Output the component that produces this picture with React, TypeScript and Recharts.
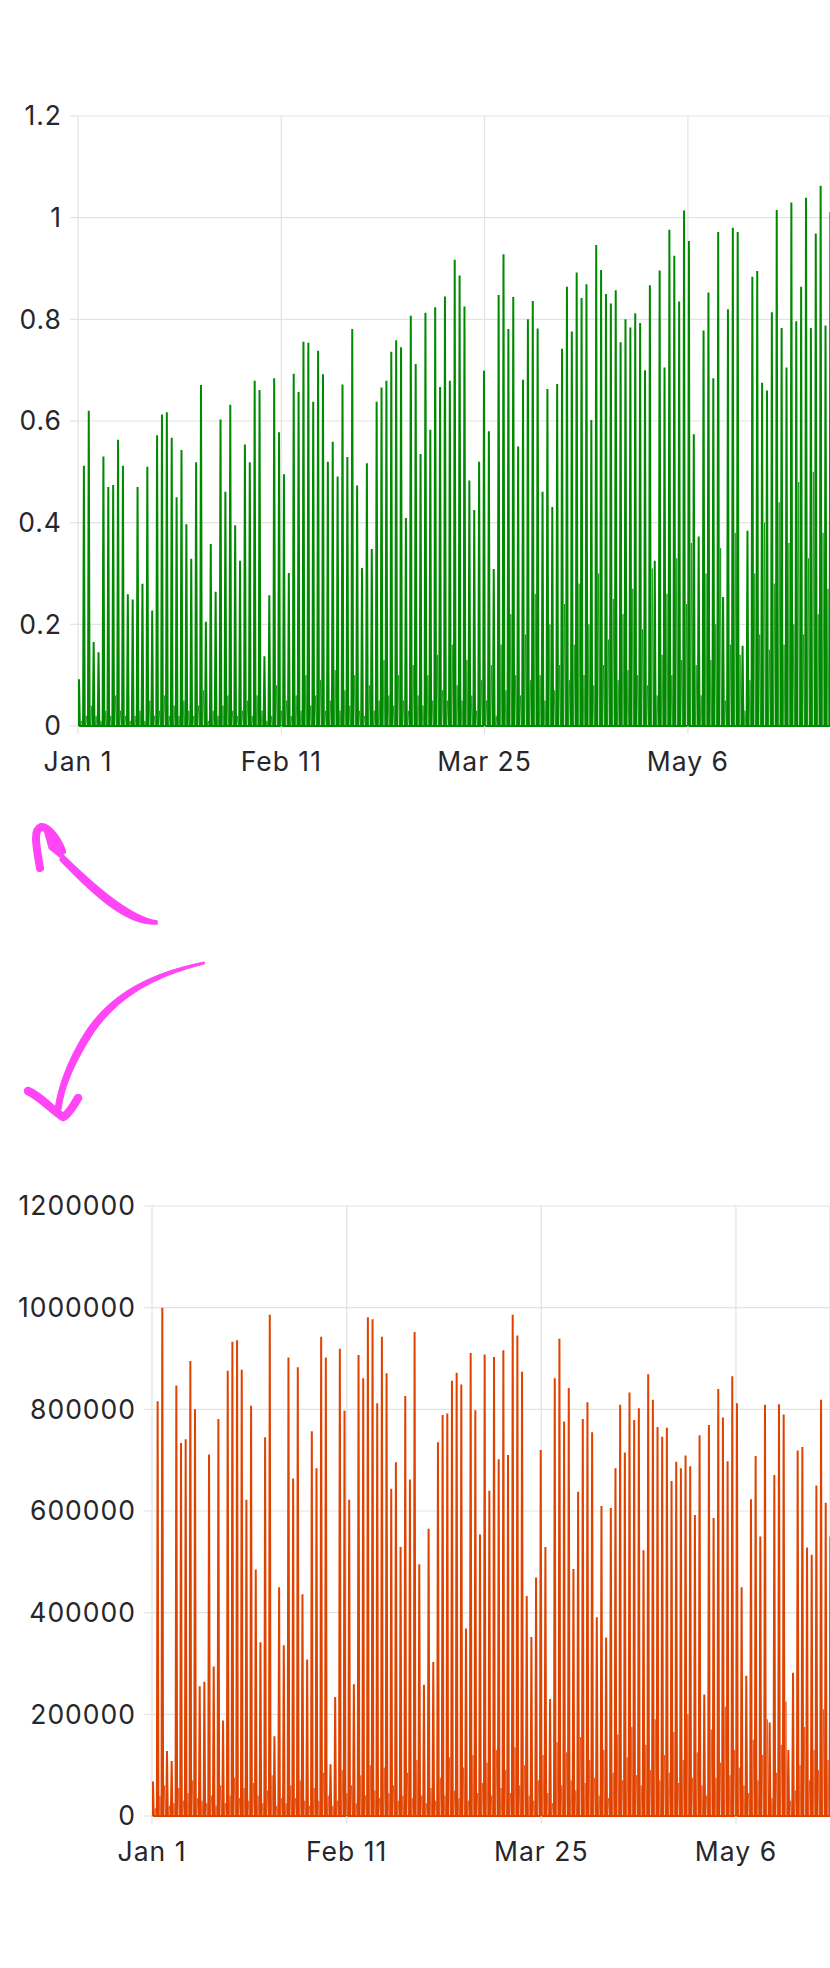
import React from "react";
import { LineChart, Line, XAxis, YAxis, CartesianGrid } from "recharts";

const greenMainPeaks = [
  0.092, 0.512, 0.62, 0.165, 0.145, 0.53, 0.47, 0.474, 0.563, 0.512, 0.259, 0.249, 0.47, 0.28, 0.51, 0.227,
  0.572, 0.613, 0.617, 0.567, 0.45, 0.543, 0.397, 0.329, 0.519, 0.671, 0.205, 0.358, 0.264, 0.603, 0.461, 0.632,
  0.395, 0.325, 0.554, 0.519, 0.679, 0.661, 0.137, 0.257, 0.684, 0.578, 0.495, 0.301, 0.693, 0.657,
  0.756, 0.754, 0.638, 0.738, 0.692, 0.52, 0.559, 0.491, 0.672, 0.529, 0.781, 0.473, 0.311, 0.517, 0.348, 0.638,
  0.666, 0.679, 0.736, 0.759, 0.745, 0.409, 0.807, 0.712, 0.535, 0.813, 0.583, 0.824, 0.667, 0.845, 0.679, 0.917,
  0.886, 0.825, 0.483, 0.425, 0.52, 0.699, 0.58, 0.309, 0.848, 0.928, 0.781, 0.844, 0.55, 0.681, 0.8, 0.836,
  0.782, 0.461, 0.663, 0.431, 0.673, 0.742, 0.864, 0.776, 0.892, 0.842, 0.869, 0.602, 0.946, 0.897, 0.85, 0.831,
  0.857, 0.755, 0.8, 0.784, 0.812, 0.793, 0.7, 0.867, 0.325, 0.896, 0.705, 0.976, 0.925, 0.835, 1.014, 0.954,
  0.574, 0.373, 0.778, 0.853, 0.684, 0.972, 0.254, 0.82, 0.98, 0.972, 0.158, 0.384, 0.884, 0.895, 0.675, 0.66,
  0.814, 1.015, 0.783, 0.705, 1.03, 0.796, 0.864, 1.039, 0.783, 0.969, 1.063, 0.788, 1.011,
];

// Lower second peak of each day in the green chart (estimated).
const greenSecondPeaks = [
  0.01, 0.02, 0.04, 0.02, 0.01, 0.03, 0.02, 0.06, 0.03, 0.02, 0.01, 0.02, 0.03, 0.01, 0.05, 0.02,
  0.03, 0.06, 0.02, 0.04, 0.02, 0.05, 0.03, 0.02, 0.04, 0.07, 0.01, 0.03, 0.02, 0.04, 0.06, 0.03,
  0.02, 0.03, 0.05, 0.02, 0.06, 0.03, 0.01, 0.02, 0.08, 0.03, 0.05, 0.02, 0.06, 0.03,
  0.1, 0.04, 0.06, 0.09, 0.03, 0.05, 0.11, 0.03, 0.07, 0.04, 0.1, 0.03, 0.02, 0.08, 0.03, 0.05,
  0.13, 0.06, 0.04, 0.1, 0.05, 0.03, 0.12, 0.06, 0.04, 0.1, 0.05, 0.14, 0.07, 0.05, 0.16, 0.08,
  0.05, 0.13, 0.06, 0.03, 0.09, 0.05, 0.12, 0.02, 0.16, 0.07, 0.22, 0.1, 0.06, 0.18, 0.09, 0.26,
  0.1, 0.05, 0.2, 0.07, 0.12, 0.24, 0.09, 0.16, 0.28, 0.1, 0.2, 0.08, 0.3, 0.12, 0.17, 0.25,
  0.09, 0.22, 0.11, 0.27, 0.1, 0.19, 0.08, 0.31, 0.06, 0.14, 0.26, 0.1, 0.33, 0.13, 0.24, 0.36,
  0.12, 0.06, 0.3, 0.13, 0.2, 0.35, 0.05, 0.16, 0.38, 0.14, 0.03, 0.09, 0.3, 0.18, 0.4, 0.15,
  0.28, 0.44, 0.16, 0.36, 0.2, 0.48, 0.18, 0.33, 0.5, 0.22, 0.38, 0.27, 0.52,
];

const orangeMainPeaks = [
  68000, 816000, 1000000, 128000, 108000, 847000, 734000, 741000, 895000, 800000, 255000, 264000, 711000, 294000, 781000, 188000,
  876000, 933000, 936000, 878000, 622000, 807000, 485000, 342000, 745000, 986000, 157000, 450000, 336000, 902000, 664000, 883000,
  436000, 308000, 757000, 684000, 943000, 902000, 102000, 234000, 919000, 797000, 622000, 259000, 907000, 861000, 981000, 977000,
  812000, 943000, 871000, 644000, 696000, 529000, 826000, 662000, 952000, 495000, 258000, 565000, 303000, 735000, 789000, 792000,
  856000, 872000, 849000, 369000, 911000, 798000, 554000, 908000, 640000, 903000, 702000, 916000, 710000, 986000, 945000, 874000,
  433000, 352000, 469000, 720000, 529000, 230000, 861000, 939000, 776000, 842000, 486000, 638000, 781000, 814000, 755000, 391000,
  610000, 351000, 606000, 684000, 809000, 715000, 833000, 779000, 802000, 523000, 869000, 819000, 765000, 746000, 764000, 659000,
  697000, 684000, 709000, 688000, 592000, 749000, 239000, 769000, 586000, 840000, 784000, 698000, 865000, 812000, 450000, 276000,
  623000, 708000, 550000, 809000, 184000, 671000, 810000, 790000, 130000, 282000, 719000, 726000, 528000, 514000, 650000, 819000,
  616000, 550000,
];

// Lower second peak of each day in the orange chart (estimated).
const orangeSecondPeaks = [
  15000, 40000, 60000, 20000, 25000, 55000, 30000, 45000, 70000, 35000, 30000, 25000, 40000, 20000, 60000, 25000,
  40000, 75000, 35000, 55000, 30000, 65000, 40000, 25000, 50000, 80000, 20000, 35000, 25000, 60000, 35000, 70000,
  30000, 20000, 55000, 30000, 85000, 40000, 20000, 30000, 90000, 45000, 60000, 25000, 80000, 40000, 100000, 50000,
  35000, 95000, 45000, 60000, 30000, 40000, 85000, 35000, 110000, 40000, 25000, 55000, 30000, 75000, 40000, 115000,
  50000, 35000, 95000, 30000, 120000, 45000, 65000, 105000, 40000, 130000, 55000, 90000, 45000, 135000, 60000, 100000,
  40000, 30000, 70000, 120000, 45000, 25000, 145000, 60000, 125000, 70000, 50000, 155000, 65000, 110000, 75000, 40000,
  130000, 35000, 85000, 160000, 70000, 115000, 175000, 80000, 60000, 140000, 90000, 190000, 70000, 120000, 85000, 165000,
  65000, 110000, 200000, 75000, 125000, 60000, 40000, 170000, 75000, 105000, 215000, 80000, 130000, 95000, 60000, 45000,
  150000, 70000, 120000, 190000, 35000, 85000, 140000, 225000, 30000, 50000, 100000, 175000, 70000, 130000, 90000, 210000,
  110000, 160000,
];

const greenTicksY = [0, 0.2, 0.4, 0.6, 0.8, 1, 1.2];
const orangeTicksY = [0, 200000, 400000, 600000, 800000, 1000000, 1200000];
const hourTicks = [0, 1000, 2000, 3000];
const hourLabels = ["Jan 1", "Feb 11", "Mar 25", "May 6"];

type Row = { hour: number; main: number; second: number };

const buildHours = (mains: number[], seconds: number[]) => {
  const rows: Row[] = [];
  mains.forEach((main, day) => {
    const base = day * 24;
    rows.push({ hour: base + 1, main: 0, second: 0 });
    rows.push({ hour: base + 5, main, second: 0 });
    rows.push({ hour: base + 9, main: 0, second: 0 });
    rows.push({ hour: base + 13, main: 0, second: 0 });
    rows.push({ hour: base + 17, main: 0, second: seconds[day] });
    rows.push({ hour: base + 21, main: 0, second: 0 });
  });
  return rows;
};

const FONT = "Inter, 'Noto Sans', sans-serif";
const GRID = "#e3e3e3";
const tickStyle = { fontSize: 26.5, letterSpacing: 1, fontFamily: FONT, fill: "#26262b" };

function Panel(props: {
  top: number;
  axisWidth: number;
  maxHour: number;
  rows: Row[];
  yTicks: number[];
  yMax: number;
  color: string;
}) {
  const { top, axisWidth, maxHour, rows, yTicks, yMax, color } = props;
  return (
    <div style={{ position: "absolute", left: 0, top }}>
      <LineChart
        width={830}
        height={686}
        data={rows}
        margin={{ top: 16, right: 0, bottom: 0, left: 0 }}
      >
        <CartesianGrid stroke={GRID} strokeWidth={1.2} />
        <XAxis
          dataKey="hour"
          type="number"
          domain={[0, maxHour]}
          allowDataOverflow
          ticks={hourTicks}
          interval={0}
          height={60}
          tickSize={8}
          tickMargin={18}
          axisLine={false}
          tickLine={{ stroke: GRID, strokeWidth: 1.2 }}
          tick={tickStyle}
          tickFormatter={(v: number) => hourLabels[hourTicks.indexOf(v)]}
        />
        <YAxis
          type="number"
          domain={[0, yMax]}
          ticks={yTicks}
          interval={0}
          width={axisWidth}
          tickSize={8}
          tickMargin={8}
          axisLine={false}
          tickLine={{ stroke: GRID, strokeWidth: 1.2 }}
          tick={tickStyle}
        />
        <Line
          dataKey="second"
          type="linear"
          stroke={color}
          strokeWidth={1}
          strokeOpacity={0.7}
          dot={false}
          activeDot={false}
          isAnimationActive={false}
        />
        <Line
          dataKey="main"
          type="linear"
          stroke={color}
          strokeWidth={2}
          dot={false}
          activeDot={false}
          isAnimationActive={false}
        />
      </LineChart>
    </div>
  );
}

function Arrows() {
  const c = "#ff45f5";
  return (
    <svg
      width={830}
      height={400}
      style={{ position: "absolute", left: 0, top: 780 }}
      fill={c}
      stroke={c}
      strokeLinecap="round"
      strokeLinejoin="round"
    >
      <path d="M157 141 C135 138 105 116 62 74 L60 80 C100 122 130 146 157 144 Z" strokeWidth={1.5} />
      <path d="M40 88 C36 65 33 50 41 47 C48 46 58 60 62 71" strokeWidth={8} fill="none" />
      <path d="M45 50 L62 68 L60 76 L50 68 Z" strokeWidth={3} />
      <path d="M204 182 C150 193 113 213 88 248 C70 275 58 305 55 330 L61 330 C64 305 76 280 94 252 C118 218 152 197 204 184 Z" strokeWidth={1} />
      <path d="M28 311 C40 316 52 330 63 337 C68 335 74 325 78 318" strokeWidth={8.5} fill="none" />
    </svg>
  );
}

const greenRows = buildHours(greenMainPeaks, greenSecondPeaks);
const orangeRows = buildHours(orangeMainPeaks, orangeSecondPeaks);

export default function App() {
  return (
    <div style={{ position: "relative", width: 830, height: 1968, background: "#fff", overflow: "hidden" }}>
      <style>{"html,body{margin:0;padding:0}"}</style>
      <Panel top={100} axisWidth={78} maxHour={3699} rows={greenRows} yTicks={greenTicksY} yMax={1.2} color="#008a00" />
      <Arrows />
      <Panel top={1190} axisWidth={152} maxHour={3483} rows={orangeRows} yTicks={orangeTicksY} yMax={1200000} color="#e04300" />
    </div>
  );
}
